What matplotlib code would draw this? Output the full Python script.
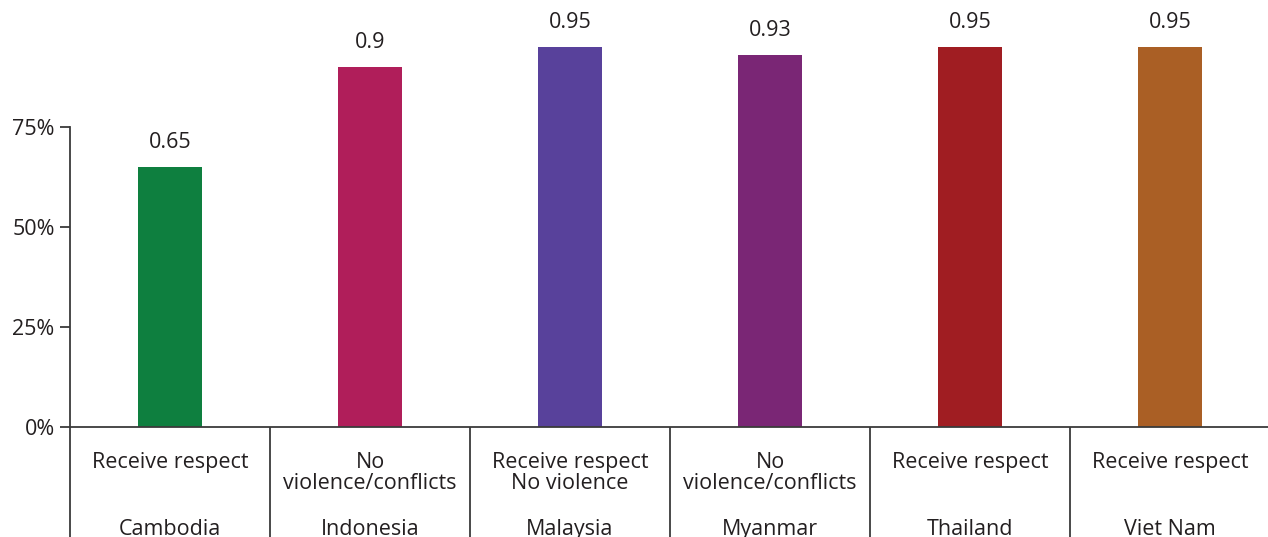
import matplotlib
matplotlib.use("Agg")
import matplotlib.pyplot as plt
from matplotlib.ticker import FixedLocator, PercentFormatter

countries = ["Cambodia", "Indonesia", "Malaysia", "Myanmar", "Thailand", "Viet Nam"]
reasons = ["Receive respect", "No\nviolence/conflicts", "Receive respect\nNo violence",
           "No\nviolence/conflicts", "Receive respect", "Receive respect"]
values = [0.65, 0.9, 0.95, 0.93, 0.95, 0.95]
bar_colors = ["#0e7f3f", "#b01e5a", "#58419b", "#7a2675", "#a01d22", "#aa5f25"]
y_ticks = [0, 0.25, 0.5, 0.75]

plt.rcParams["font.family"] = ["Open Sans", "DejaVu Sans"]
text_color = "#231f20"
line_color = "#3a3a3a"
fs = 15.5

W, H = 1268, 537
fig = plt.figure(figsize=(W / 100, H / 100), dpi=100)
ax = fig.add_axes([70 / W, (H - 427) / H, 1200 / W, 400 / H])

x = list(range(len(countries)))
ax.bar(x, values, width=0.32, color=bar_colors)
ax.set_xlim(-0.5, len(countries) - 0.5)
ax.set_ylim(0, 1)

for xi, v in zip(x, values):
    ax.annotate(f"{v:g}", (xi, v), xytext=(0, 10), textcoords="offset points",
                ha="center", va="bottom", fontsize=fs, color=text_color)

for s in ("top", "right"):
    ax.spines[s].set_visible(False)
ax.spines["left"].set_bounds(0, 0.75)
for s in ("left", "bottom"):
    ax.spines[s].set_color(line_color)
    ax.spines[s].set_linewidth(1.3)

ax.yaxis.set_major_locator(FixedLocator(y_ticks))
ax.yaxis.set_major_formatter(PercentFormatter(1.0, decimals=0))
ax.tick_params(axis="y", length=7, width=1.3, color=line_color, labelsize=fs,
               labelcolor=text_color, pad=4)
ax.set_xticks([])

# category separators running down through the label area
for b in range(len(countries)):
    ax.plot([b - 0.5, b - 0.5], [0, -0.28], color=line_color, lw=1.3,
            clip_on=False, solid_capstyle="butt")

for xi, r, c in zip(x, reasons, countries):
    ax.text(xi, -0.063, r, ha="center", va="top", fontsize=fs, color=text_color,
            linespacing=1.0)
    ax.text(xi, -0.230, c, ha="center", va="top", fontsize=fs, color=text_color)

fig.savefig("out.png", dpi=100, facecolor="white")
